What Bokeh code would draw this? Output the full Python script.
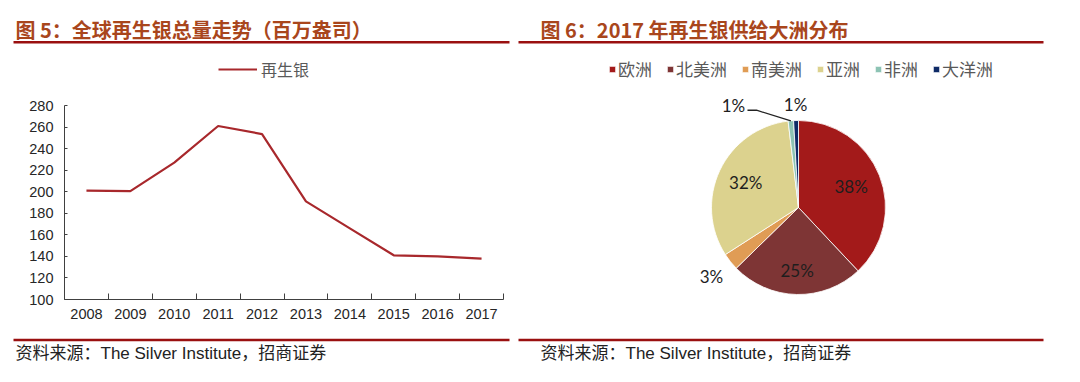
import math
from bokeh.plotting import figure
from bokeh.models import (ColumnDataSource, Range1d, FixedTicker, Label, LinearAxis,
                          BoxAnnotation, Legend, LegendItem)
from bokeh.embed import file_html
from bokeh.resources import INLINE
from bokeh.core.properties import value

# ---------------- data ----------------
years = ["2008", "2009", "2010", "2011", "2012", "2013", "2014", "2015", "2016", "2017"]
recycled_silver = [201, 200.5, 227, 261, 253.5, 191, 166, 141, 140, 138]
y_ticks = [100, 120, 140, 160, 180, 200, 220, 240, 260, 280]

continents = ["欧洲", "北美洲", "南美洲", "亚洲", "非洲", "大洋洲"]
shares = [38.0, 24.7, 3.2, 32.2, 1.0, 0.9]
share_labels = ["38%", "25%", "3%", "32%", "1%", "1%"]

title_left = "图 5：全球再生银总量走势（百万盎司）"
title_right = "图 6：2017 年再生银供给大洲分布"
source_text = "资料来源：The Silver Institute，招商证券"
series_name = "再生银"

# ---------------- styles / layout (pixels) ----------------
W, H = 1080, 382
TITLE_COLOR = "#A9461C"
RULE_COLOR = "#9A1010"
LINE_COLOR = "#A8282C"
AXIS_COLOR = "#404040"
TICK_FONT = "'Liberation Sans', Arial, sans-serif"
CJK_FONT = "'Noto Sans CJK SC'"
MIX_FONT = "'Liberation Sans', 'Noto Sans CJK SC'"
pie_colors = ["#A31A1A", "#7E3535", "#E09C55", "#DCD28E", "#8DC3B4", "#0E2A66"]

# line-chart plot area in page pixels
PA_L, PA_R, PA_T, PA_B = 64, 503, 105, 299


def Y(py):
    """page pixel y (from top) -> canvas data y (from bottom)"""
    return H - py


p = figure(width=W, height=H, output_backend="svg", toolbar_location=None,
           x_range=Range1d(0, W), y_range=Range1d(0, H),
           x_axis_type=None, y_axis_type=None, title=None,
           min_border=0, min_border_left=0, min_border_right=0,
           min_border_top=0, min_border_bottom=0)
p.outline_line_color = None
p.grid.visible = False
p.background_fill_color = "white"
p.border_fill_color = "white"

# extra ranges so that the line chart's plot area sits at PA_*
n = len(years)
sx = (PA_R - PA_L) / n
x0 = -PA_L / sx
sy = (PA_B - PA_T) / (y_ticks[-1] - y_ticks[0])
y0 = y_ticks[0] - (H - PA_B) / sy
p.extra_x_ranges = {"lx": Range1d(x0, x0 + W / sx)}
p.extra_y_ranges = {"ly": Range1d(y0, y0 + H / sy)}

xs = [i + 0.5 for i in range(n)]
r_line = p.line(xs, recycled_silver, line_color=LINE_COLOR, line_width=2.2,
                x_range_name="lx", y_range_name="ly")

xaxis = LinearAxis(x_range_name="lx", y_range_name="ly", fixed_location=y_ticks[0],
                   bounds=(0, n),
                   ticker=FixedTicker(ticks=xs, minor_ticks=list(range(0, n + 1))))
xaxis.major_label_overrides = {x: y for x, y in zip(xs, years)}
xaxis.major_tick_in = 0
xaxis.major_tick_out = 0
xaxis.minor_tick_in = 6
xaxis.minor_tick_out = 0
xaxis.minor_tick_line_color = AXIS_COLOR
xaxis.major_label_standoff = 9

yaxis = LinearAxis(y_range_name="ly", fixed_location=PA_L,
                   bounds=(y_ticks[0], y_ticks[-1]), ticker=FixedTicker(ticks=y_ticks))
yaxis.major_tick_in = 3
yaxis.major_tick_out = 0
yaxis.minor_tick_line_color = None
yaxis.major_label_standoff = 11

for ax in (xaxis, yaxis):
    ax.axis_line_color = AXIS_COLOR
    ax.major_tick_line_color = AXIS_COLOR
    ax.major_label_text_font = TICK_FONT
    ax.major_label_text_font_size = "14.5px"
    ax.major_label_text_color = "#262626"
p.add_layout(xaxis, "below")
p.add_layout(yaxis, "left")

leg = Legend(items=[LegendItem(label=series_name, renderers=[r_line])],
             location=(218, Y(69 + 13)), orientation="horizontal",
             padding=0, margin=0, spacing=0, glyph_width=39, glyph_height=16,
             label_height=26, label_standoff=4, label_text_font=CJK_FONT,
             label_text_font_size="16px", label_text_color="#595959",
             border_line_color=None, background_fill_alpha=0)
p.add_layout(leg)

# ---------------- pie chart ----------------
cx, cy, R = 798, Y(207), 87
total = sum(shares)
starts, ends, mids = [], [], []
cum = 0.0
for s in shares:
    a0 = math.pi / 2 - 2 * math.pi * cum / total
    cum += s
    a1 = math.pi / 2 - 2 * math.pi * cum / total
    starts.append(a1)
    ends.append(a0)
    mids.append((a0 + a1) / 2)

src = ColumnDataSource(dict(start=starts, end=ends, color=pie_colors, name=continents))
wr = p.wedge(x=cx, y=cy, radius=R, start_angle="start", end_angle="end",
             fill_color="color", line_color="white", line_width=0.8, source=src)

label_r = [0.65, 0.72, 1.28, 0.67, 1.18, 1.18]
label_dx = [0, 0, 0, 0, -56, 0]
lx, ly = [], []
for m, f, dx in zip(mids, label_r, label_dx):
    lx.append(cx + R * f * math.cos(m) + dx)
    ly.append(cy + R * f * math.sin(m))
lsrc = ColumnDataSource(dict(x=lx, y=ly, t=share_labels))
p.text(x="x", y="y", text="t", source=lsrc, text_align="center", text_baseline="middle",
       text_font=value("Lato"), text_font_size="17px", text_color="#1E1E1E")

# leader line for the displaced small label (非洲)
i_af = 4
rim_x = cx + R * math.cos(mids[i_af])
rim_y = cy + R * math.sin(mids[i_af])
leader = ColumnDataSource(dict(x=[lx[i_af] + 14, lx[i_af] + 23, rim_x],
                               y=[ly[i_af] - 5, ly[i_af] - 5, rim_y]))
p.line(x="x", y="y", source=leader, line_color="#222222", line_width=1.3, level="overlay")

leg2 = Legend(items=[LegendItem(label=c, renderers=[wr], index=i) for i, c in enumerate(continents)],
              location=(608, Y(68.7 + 13)), orientation="horizontal",
              padding=0, margin=0, spacing=14, glyph_width=8, glyph_height=8,
              label_height=26, label_standoff=2, label_text_font=CJK_FONT,
              label_text_font_size="17px", label_text_color="#595959",
              border_line_color=None, background_fill_alpha=0)
p.add_layout(leg2)

# ---------------- headers / footers ----------------
for tx, title, r0, r1 in ((15, title_left, 13, 509), (540, title_right, 518, 1043)):
    p.add_layout(Label(x=tx, y=Y(28.5), text=title, text_baseline="middle",
                       text_font=CJK_FONT, text_font_size="20px", text_font_style="bold",
                       text_color=TITLE_COLOR))
    p.add_layout(BoxAnnotation(left=r0, right=r1, top=Y(40.5), bottom=Y(43),
                               fill_color=RULE_COLOR, fill_alpha=1, line_alpha=0))
    p.add_layout(BoxAnnotation(left=r0, right=r1, top=Y(338.3), bottom=Y(340.7),
                               fill_color=RULE_COLOR, fill_alpha=1, line_alpha=0))
    p.add_layout(Label(x=tx, y=Y(353), text=source_text, text_baseline="middle",
                       text_font=MIX_FONT, text_font_size="17px", text_color="#222222"))

open("out.html", "w").write(file_html(p, INLINE))
